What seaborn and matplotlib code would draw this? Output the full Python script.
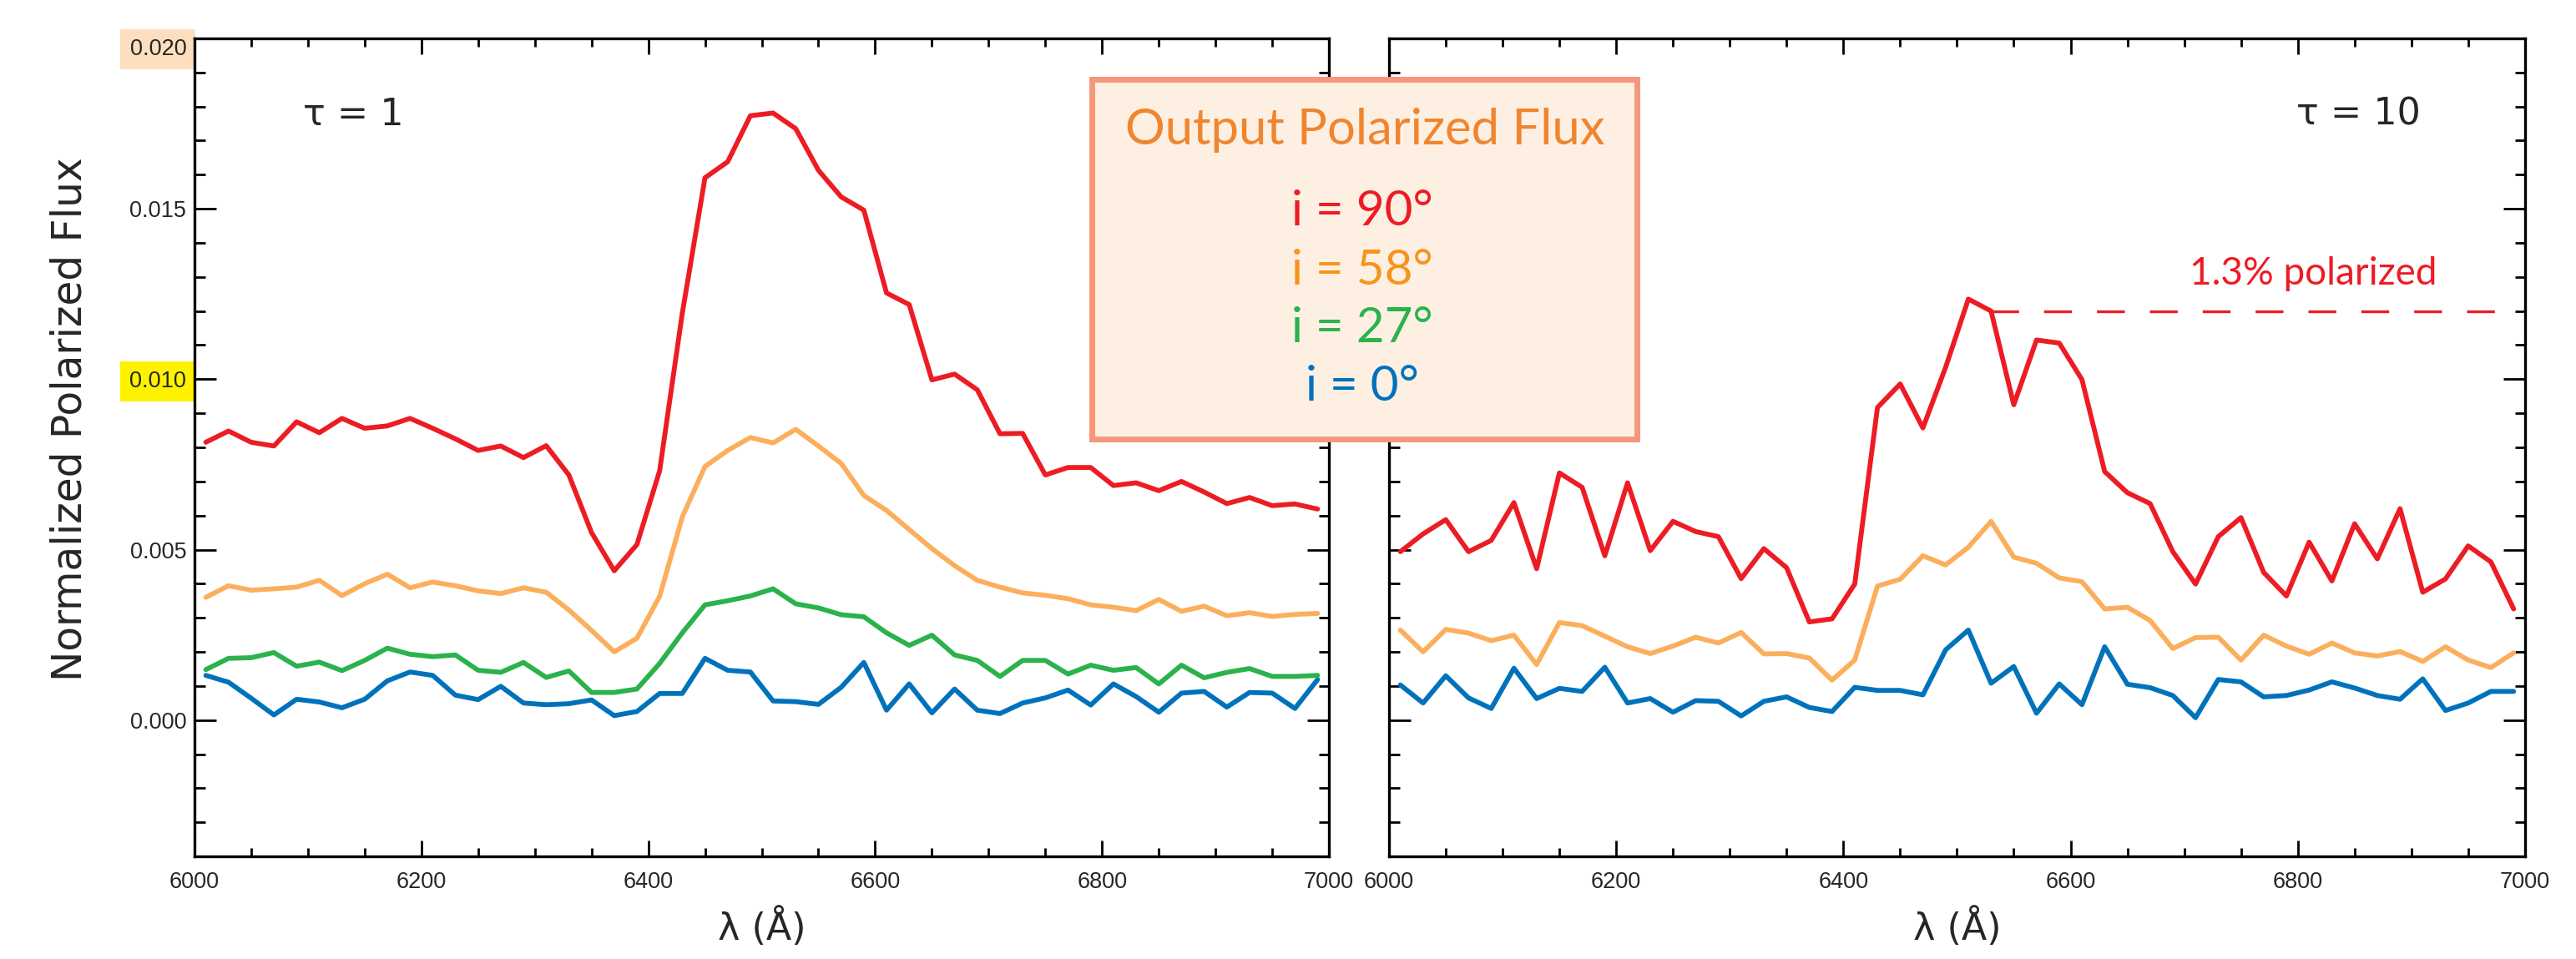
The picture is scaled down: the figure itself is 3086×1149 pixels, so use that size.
import numpy as np
import pandas as pd
import matplotlib
matplotlib.use("Agg")
import matplotlib.pyplot as plt
from matplotlib.patches import Rectangle
from matplotlib.ticker import MultipleLocator, FormatStrFormatter
import seaborn as sns

# wavelength grid (Angstrom)
wavelength = [6010, 6030, 6050, 6070, 6090, 6110, 6130, 6150, 6170, 6190,
              6210, 6230, 6250, 6270, 6290, 6310, 6330, 6350, 6370, 6390,
              6410, 6430, 6450, 6470, 6490, 6510, 6530, 6550, 6570, 6590,
              6610, 6630, 6650, 6670, 6690, 6710, 6730, 6750, 6770, 6790,
              6810, 6830, 6850, 6870, 6890, 6910, 6930, 6950, 6970, 6990]

# polarized flux, in units of 1e-3
tau1_i90 = [8.15, 8.48, 8.15, 8.04, 8.75, 8.43, 8.85, 8.56, 8.63, 8.85,
            8.56, 8.25, 7.91, 8.04, 7.70, 8.05, 7.19, 5.50, 4.38, 5.15,
            7.31, 11.94, 15.91, 16.38, 17.73, 17.81, 17.35, 16.13, 15.35, 14.96,
            12.53, 12.19, 9.98, 10.15, 9.69, 8.40, 8.41, 7.19, 7.41, 7.41,
            6.88, 6.96, 6.73, 7.00, 6.69, 6.35, 6.53, 6.29, 6.34, 6.19]
tau1_i58 = [3.60, 3.94, 3.81, 3.85, 3.90, 4.10, 3.65, 4.00, 4.28, 3.88,
            4.05, 3.94, 3.79, 3.71, 3.88, 3.75, 3.23, 2.63, 2.00, 2.40,
            3.63, 5.96, 7.44, 7.91, 8.29, 8.13, 8.53, 8.04, 7.53, 6.59,
            6.15, 5.59, 5.03, 4.53, 4.10, 3.90, 3.73, 3.66, 3.56, 3.38,
            3.31, 3.21, 3.54, 3.19, 3.34, 3.06, 3.15, 3.04, 3.10, 3.13]
tau1_i27 = [1.48, 1.81, 1.83, 1.98, 1.58, 1.70, 1.45, 1.75, 2.11, 1.93,
            1.86, 1.91, 1.46, 1.40, 1.69, 1.25, 1.44, 0.81, 0.81, 0.91,
            1.66, 2.56, 3.38, 3.50, 3.64, 3.85, 3.41, 3.29, 3.09, 3.03,
            2.56, 2.19, 2.49, 1.91, 1.75, 1.28, 1.75, 1.75, 1.35, 1.61,
            1.46, 1.54, 1.06, 1.61, 1.24, 1.40, 1.51, 1.28, 1.28, 1.31]
tau1_i0 = [1.31, 1.11, 0.64, 0.15, 0.61, 0.53, 0.36, 0.61, 1.15, 1.41,
           1.31, 0.73, 0.60, 0.99, 0.50, 0.45, 0.48, 0.59, 0.13, 0.25,
           0.78, 0.78, 1.81, 1.46, 1.41, 0.56, 0.54, 0.46, 0.96, 1.69,
           0.29, 1.06, 0.21, 0.91, 0.29, 0.19, 0.50, 0.65, 0.88, 0.44,
           1.06, 0.69, 0.23, 0.79, 0.84, 0.38, 0.81, 0.79, 0.34, 1.19]

tau10_i90 = [4.94, 5.46, 5.88, 4.94, 5.27, 6.38, 4.44, 7.25, 6.83, 4.82,
             6.96, 4.97, 5.83, 5.53, 5.38, 4.15, 5.03, 4.47, 2.88, 2.97,
             3.99, 9.17, 9.86, 8.57, 10.35, 12.35, 12.00, 9.25, 11.15, 11.06,
             9.99, 7.29, 6.67, 6.35, 4.94, 3.99, 5.38, 5.94, 4.33, 3.64,
             5.22, 4.08, 5.76, 4.73, 6.20, 3.75, 4.14, 5.11, 4.64, 3.26]
tau10_i58 = [2.64, 2.00, 2.66, 2.55, 2.33, 2.49, 1.63, 2.86, 2.77, 2.46,
             2.15, 1.95, 2.17, 2.43, 2.26, 2.57, 1.94, 1.95, 1.82, 1.17,
             1.76, 3.93, 4.13, 4.82, 4.55, 5.07, 5.83, 4.78, 4.60, 4.17,
             4.06, 3.26, 3.31, 2.92, 2.10, 2.42, 2.43, 1.76, 2.49, 2.17,
             1.93, 2.26, 1.97, 1.88, 2.01, 1.72, 2.15, 1.76, 1.54, 1.97]
tau10_i0 = [1.03, 0.50, 1.30, 0.65, 0.34, 1.52, 0.63, 0.93, 0.84, 1.55,
            0.50, 0.63, 0.23, 0.57, 0.55, 0.12, 0.55, 0.68, 0.37, 0.25,
            0.96, 0.87, 0.87, 0.74, 2.06, 2.64, 1.08, 1.57, 0.20, 1.06,
            0.45, 2.15, 1.05, 0.95, 0.72, 0.07, 1.19, 1.12, 0.68, 0.72,
            0.88, 1.12, 0.94, 0.72, 0.61, 1.21, 0.28, 0.50, 0.84, 0.84]

legend_labels = ["i = 90°", "i = 58°", "i = 27°", "i = 0°"]
pol_level = 0.012      # 1.3% polarized reference level
pol_start = 6530

RED = "#ED1C24"
ORANGE = "#FBAF5D"
GREEN = "#2BB24C"
BLUE = "#0072BC"
TEXT_COLORS = [RED, "#F7941D", GREEN, BLUE]

sns.set_style("ticks")
plt.rcParams["font.family"] = ["DejaVu Sans"]

fig = plt.figure(figsize=(30.86, 11.49), dpi=100)
ax1 = fig.add_axes([0.0755, 0.107, 0.4404, 0.853])
ax2 = fig.add_axes([0.5392, 0.107, 0.4410, 0.853])


def draw(ax, series, colors):
    for vals, c in zip(series, colors):
        df = pd.DataFrame({"wl": wavelength, "flux": np.array(vals) * 1e-3})
        sns.lineplot(data=df, x="wl", y="flux", ax=ax, color=c, linewidth=4.2,
                     legend=False)


draw(ax1, [tau1_i0, tau1_i27, tau1_i58, tau1_i90], [BLUE, GREEN, ORANGE, RED])
draw(ax2, [tau10_i0, tau10_i58, tau10_i90], [BLUE, ORANGE, RED])

for ax in (ax1, ax2):
    ax.set_xlim(6000, 7000)
    ax.set_ylim(-0.004, 0.020)
    ax.xaxis.set_major_locator(MultipleLocator(200))
    ax.xaxis.set_minor_locator(MultipleLocator(50))
    ax.yaxis.set_major_locator(MultipleLocator(0.005))
    ax.yaxis.set_minor_locator(MultipleLocator(0.001))
    ax.tick_params(axis="both", which="both", direction="in", top=True,
                   right=True, width=2, color="black")
    ax.tick_params(axis="x", which="major", length=14, pad=13, labelsize=19.5)
    ax.tick_params(axis="x", which="minor", length=7)
    ax.tick_params(axis="y", which="major", length=19, pad=7, labelsize=19.5)
    ax.tick_params(axis="y", which="minor", length=9)
    for s in ax.spines.values():
        s.set_linewidth(2.4)
        s.set_color("black")
    ax.set_xlabel("λ (Å)", fontsize=32, labelpad=12)
    ax.set_ylabel("")

ax1.yaxis.set_major_formatter(FormatStrFormatter("%.3f"))
ax2.tick_params(axis="y", labelleft=False)
ax1.set_ylabel("Normalized Polarized Flux", fontsize=35)
ax1.yaxis.set_label_coords(-0.092, 0.535)

# tick labels in a narrower face, two of them highlighted
fig.canvas.draw()
for ax in (ax1, ax2):
    for lab in ax.get_xticklabels() + ax.get_yticklabels():
        lab.set_fontfamily("Liberation Sans")
for lab in ax1.get_yticklabels():
    if lab.get_text() == "0.020":
        lab.set_verticalalignment("top")
        lab.set_bbox(dict(facecolor="#FDDFC0", edgecolor="none", pad=8))
    elif lab.get_text() == "0.010":
        lab.set_bbox(dict(facecolor="#FFF200", edgecolor="none", pad=8))

ax1.text(0.096, 0.907, "τ = 1", transform=ax1.transAxes, fontsize=32,
         ha="left", va="center")
ax2.text(0.799, 0.907, "τ = 10", transform=ax2.transAxes, fontsize=32,
         ha="left", va="center")

# 1.3% polarized marker
ax2.plot([pol_start, 6977], [pol_level, pol_level], color=RED, linewidth=2.4,
         dashes=(10, 9))
ax2.text(6705, 0.0131, "1.3% polarized", color=RED, fontsize=33,
         fontfamily="Lato", ha="left", va="center")

# legend box
box = Rectangle((0.4240, 0.5425), 0.2116, 0.3745, transform=fig.transFigure,
                facecolor="#FDF0E3", edgecolor="#F4977A", linewidth=5, zorder=10)
fig.add_artist(box)
fig.text(0.5298, 0.8642, "Output Polarized Flux", color="#F0852F",
         fontsize=43, fontfamily="Lato", ha="center", va="center", zorder=11)
for k, (lab, c) in enumerate(zip(legend_labels, TEXT_COLORS)):
    y = 1 - [254, 324, 394, 463][k] / 1149
    fig.text(0.5288, y, lab, color=c, fontsize=42, fontfamily="Lato",
             ha="center", va="center", zorder=11)

fig.savefig("out.png", dpi=100)
